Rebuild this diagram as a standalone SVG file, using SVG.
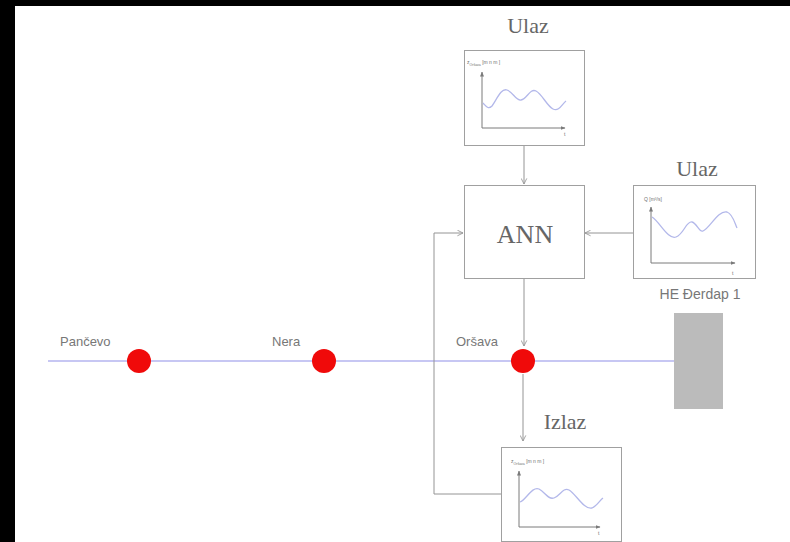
<svg xmlns="http://www.w3.org/2000/svg" width="790" height="542" viewBox="0 0 790 542">
  <defs>
    <style>
      .box { fill: #ffffff; stroke: #a0a0a0; stroke-width: 1; }
      .conn { fill: none; stroke: #949494; stroke-width: 1; }
      .axis { fill: none; stroke: #7a7a7a; stroke-width: 1; }
      .wave { fill: none; stroke: #b3b8ea; stroke-width: 1.3; }
      .serif { font-family: "Liberation Serif", "DejaVu Serif", serif; fill: #666666; }
      .sans { font-family: "Liberation Sans", Arial, sans-serif; fill: #777777; }
      .tiny { font-family: "Liberation Sans", Arial, sans-serif; fill: #707070; font-size: 5px; }
      .station { fill: #f00a0a; }
    </style>
    <marker id="arrow" viewBox="0 0 10 10" refX="9" refY="5" markerWidth="7" markerHeight="7" orient="auto">
      <path d="M1,1 L9,5 L1,9" fill="none" stroke="#949494" stroke-width="1.2"/>
    </marker>
    <marker id="axisArrow" viewBox="0 0 10 10" refX="9" refY="5" markerWidth="5" markerHeight="5" orient="auto">
      <path d="M0,1 L10,5 L0,9 Z" fill="#7a7a7a"/>
    </marker>
  </defs>

  <!-- page -->
  <rect x="0" y="0" width="790" height="542" fill="#ffffff"/>
  <rect x="0" y="0" width="790" height="6" fill="#000000"/>
  <rect x="0" y="0" width="15" height="542" fill="#000000"/>

  <!-- river -->
  <line x1="48" y1="361" x2="674" y2="361" stroke="#9090e8" stroke-width="1.2"/>

  <!-- connectors -->
  <g id="connectors">
    <line class="conn" x1="524" y1="146" x2="524" y2="184" marker-end="url(#arrow)"/>
    <line class="conn" x1="633" y1="233" x2="585" y2="233" marker-end="url(#arrow)"/>
    <line class="conn" x1="524" y1="279" x2="524" y2="346" marker-end="url(#arrow)"/>
    <line class="conn" x1="523" y1="374" x2="523" y2="441" marker-end="url(#arrow)"/>
    <polyline class="conn" points="501,494 434,494 434,233 463,233" marker-end="url(#arrow)"/>
  </g>

  <!-- input: water level chart -->
  <g id="ulaz-level">
    <text class="serif" x="528" y="33" font-size="22" text-anchor="middle">Ulaz</text>
    <rect class="box" x="464.5" y="50.5" width="120" height="95"/>
    <text class="tiny" x="467" y="64">z<tspan font-size="3.5" dy="1.5">Oršava</tspan><tspan dy="-1.5"> [m n m ]</tspan></text>
    <line class="axis" x1="482" y1="128" x2="482" y2="72" marker-end="url(#axisArrow)"/>
    <line class="axis" x1="482" y1="128" x2="565" y2="128" marker-end="url(#axisArrow)"/>
    <text class="tiny" x="564" y="136">t</text>
    <path class="wave" d="M483,103 C486,106 488,110 492,106 C497,99 501,88 507,90 C513,92 516,101 521,100 C527,99 530,88 536,91 C542,94 547,106 553,109 C559,112 562,104 566,101"/>
  </g>

  <!-- input: discharge chart -->
  <g id="ulaz-discharge">
    <text class="serif" x="697" y="176" font-size="22" text-anchor="middle">Ulaz</text>
    <rect class="box" x="633.5" y="185.5" width="122" height="93"/>
    <text class="tiny" x="644" y="201">Q [m³/s]</text>
    <line class="axis" x1="651" y1="263" x2="651" y2="207" marker-end="url(#axisArrow)"/>
    <line class="axis" x1="651" y1="263" x2="735" y2="263" marker-end="url(#axisArrow)"/>
    <text class="tiny" x="732" y="275">t</text>
    <path class="wave" d="M652,217 C660,222 668,240 676,237 C684,234 686,221 692,222 C697,223 699,233 703,231 C710,228 718,210 727,212 C733,214 735,224 737,228"/>
    <text class="sans" x="700" y="299" font-size="14" text-anchor="middle">HE Đerdap 1</text>
  </g>

  <!-- dam -->
  <g id="dam">
    <rect x="674" y="313" width="49" height="96" fill="#bbbbbb"/>
  </g>

  <!-- model -->
  <g id="ann">
    <rect class="box" x="464.5" y="185.5" width="120" height="93"/>
    <text class="serif" x="525" y="243" font-size="26" text-anchor="middle">ANN</text>
  </g>

  <!-- output chart -->
  <g id="izlaz">
    <text class="serif" x="565" y="429" font-size="22" text-anchor="middle">Izlaz</text>
    <rect class="box" x="501.5" y="447.5" width="120" height="94"/>
    <text class="tiny" x="511" y="463">z<tspan font-size="3.5" dy="1.5">Oršava</tspan><tspan dy="-1.5"> [m n m ]</tspan></text>
    <line class="axis" x1="519" y1="527" x2="519" y2="471" marker-end="url(#axisArrow)"/>
    <line class="axis" x1="519" y1="527" x2="600" y2="527" marker-end="url(#axisArrow)"/>
    <text class="tiny" x="598" y="535">t</text>
    <path class="wave" d="M520,502 C526,500 532,486 539,489 C545,492 548,500 554,498 C560,496 563,487 569,490 C576,494 584,510 592,508 C597,506 600,500 603,498"/>
  </g>

  <!-- gauging stations -->
  <g id="pancevo">
    <circle class="station" cx="139" cy="361" r="12"/>
    <text class="sans" x="60" y="346" font-size="13">Pančevo</text>
  </g>
  <g id="nera">
    <circle class="station" cx="324" cy="361" r="12"/>
    <text class="sans" x="272" y="346" font-size="13">Nera</text>
  </g>
  <g id="orsava">
    <circle class="station" cx="523" cy="361" r="12"/>
    <text class="sans" x="456" y="346" font-size="13">Oršava</text>
  </g>
</svg>
